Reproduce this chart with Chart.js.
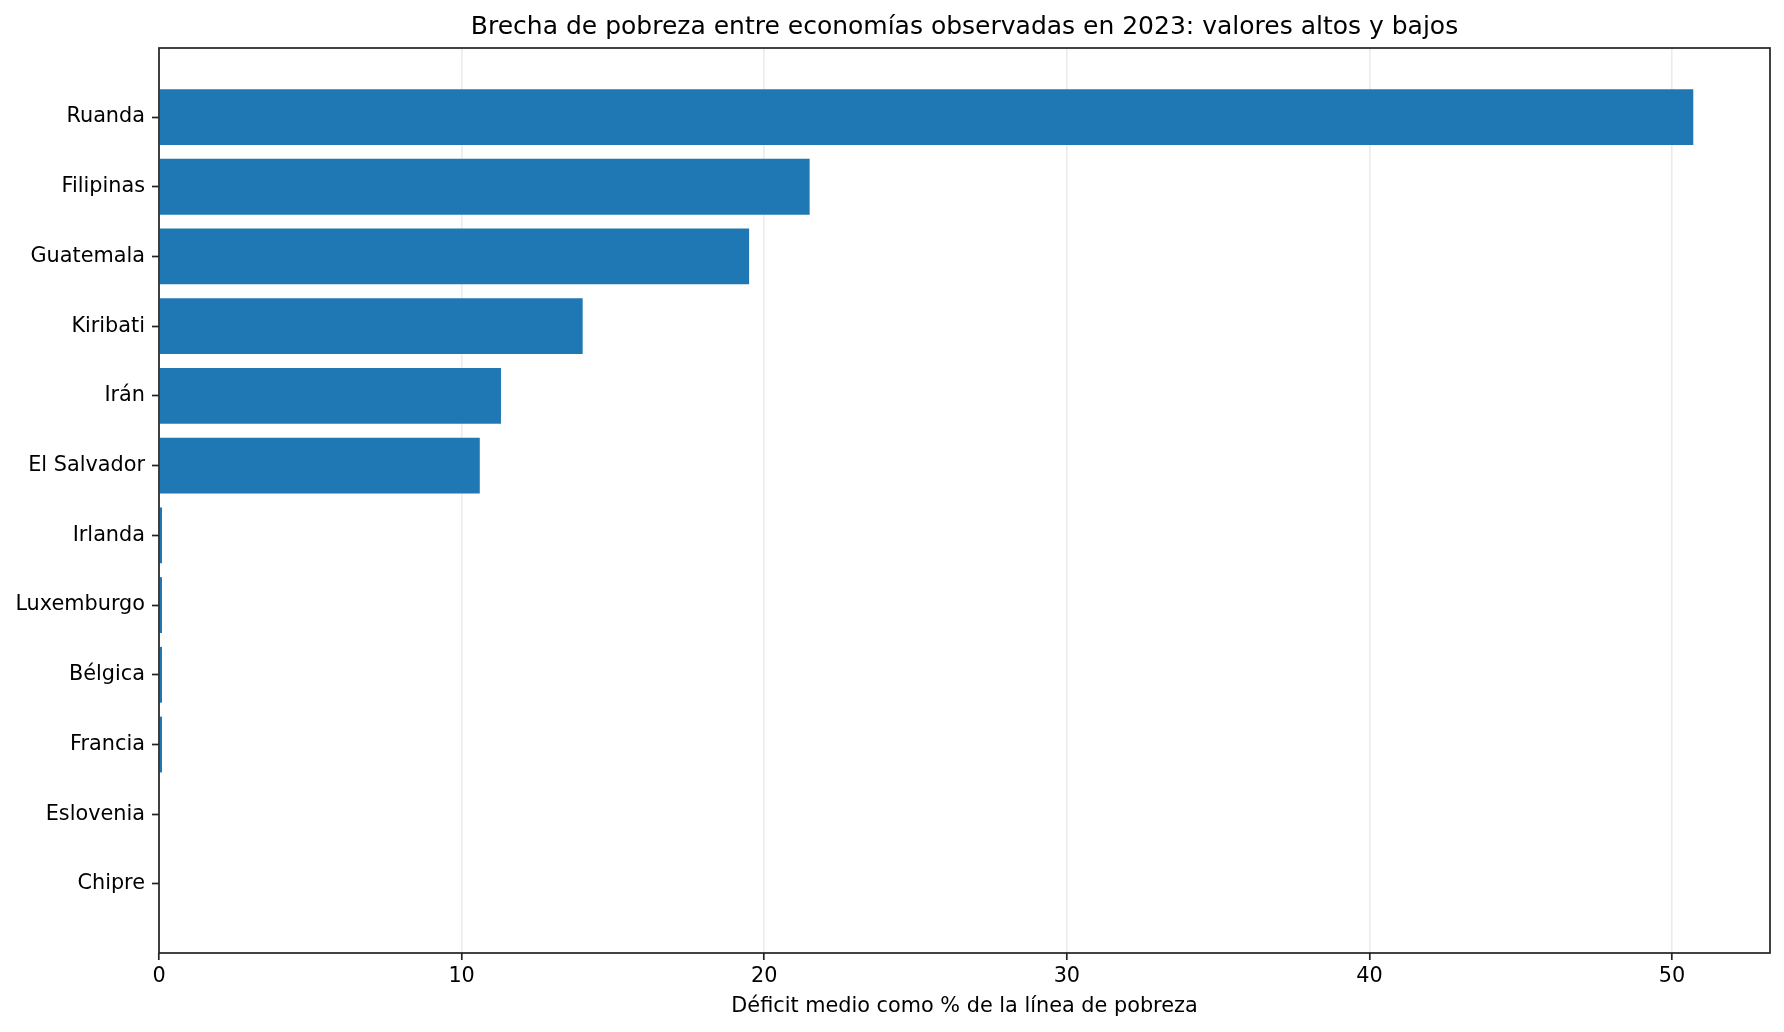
<!DOCTYPE html>
<html>
<head>
<meta charset="utf-8">
<script src="https://cdn.jsdelivr.net/npm/chart.js@4.4.1/dist/chart.umd.min.js"></script>
<style>
    html, body { margin: 0; padding: 0; background: #fff; }
    #wrap { width: 1784px; height: 1032px; }
</style>
</head>
<body>
<div id="wrap"><canvas id="chart"></canvas></div>
<script>
const countries = ["Ruanda", "Filipinas", "Guatemala", "Kiribati", "Irán", "El Salvador",
    "Irlanda", "Luxemburgo", "Bélgica", "Francia", "Eslovenia", "Chipre"];
const gapValues = [50.7, 21.5, 19.5, 14.0, 11.3, 10.6, 0.1, 0.1, 0.1, 0.1, 0, 0];
const xTicks = [0, 10, 20, 30, 40, 50];

const titleText = "Brecha de pobreza entre economías observadas en 2023: valores altos y bajos";
const xLabel = "Déficit medio como % de la línea de pobreza";

const barColor = "#1f77b4";
const spineColor = "#222222";
const font = "'DejaVu Sans', sans-serif";

// matplotlib style margins: 5% on each side of the data range
let xMax = Math.max(...gapValues) * 1.05;
let yMin = -0.4 - (countries.length - 1 + 0.8) * 0.05;
let yMax = countries.length - 1 + 0.4 + (countries.length - 1 + 0.8) * 0.05;

// box around the plot area (all four spines)
const frame = {
    id: "frame",
    afterDraw(chart) {
        const a = chart.chartArea;
        const ctx = chart.ctx;
        ctx.save();
        ctx.strokeStyle = spineColor;
        ctx.lineWidth = 1.7;
        ctx.strokeRect(a.left, a.top, a.right - a.left, a.bottom - a.top);
        ctx.restore();
    }
};

let points = countries.map((c, i) => ({ x: gapValues[i], y: i }));

new Chart(document.getElementById("chart"), {
    type: "bar",
    data: {
        datasets: [{
            data: points,
            backgroundColor: barColor,
            borderWidth: 0,
            barPercentage: 0.8,
            categoryPercentage: 1.0
        }]
    },
    options: {
        indexAxis: "y",
        responsive: true,
        maintainAspectRatio: false,
        animation: false,
        layout: { padding: { top: 0, left: 0, right: 14, bottom: 0 } },
        plugins: {
            legend: { display: false },
            tooltip: { enabled: false },
            title: {
                display: true,
                fullSize: false,
                text: titleText,
                color: "#000",
                font: { family: font, size: 25, weight: "normal", lineHeight: 1.2 },
                padding: { top: 12, bottom: 6 }
            }
        },
        scales: {
            x: {
                type: "linear",
                min: 0,
                max: xMax,
                afterBuildTicks: s => { s.ticks = xTicks.map(v => ({ value: v })); },
                afterFit: s => { s.height = 79; },
                ticks: {
                    color: "#000",
                    font: { family: font, size: 20.8 },
                    padding: 4,
                    maxRotation: 0
                },
                grid: {
                    color: "#ebebeb",
                    lineWidth: 1.6,
                    tickColor: spineColor,
                    tickLength: 7,
                    tickWidth: 1.7
                },
                border: { display: false },
                title: {
                    display: true,
                    text: xLabel,
                    color: "#000",
                    font: { family: font, size: 20.8, lineHeight: 1.2 },
                    padding: { top: 0, bottom: 13 }
                }
            },
            y: {
                type: "linear",
                reverse: true,
                offset: false,
                min: yMin,
                max: yMax,
                afterBuildTicks: s => { s.ticks = countries.map((c, i) => ({ value: i })); },
                afterFit: s => { s.width = 159; },
                ticks: {
                    color: "#000",
                    font: { family: font, size: 20.8 },
                    padding: 7,
                    callback: v => countries[v]
                },
                grid: {
                    offset: false,
                    drawOnChartArea: false,
                    tickColor: spineColor,
                    tickLength: 7,
                    tickWidth: 1.7
                },
                border: { display: false }
            }
        }
    },
    plugins: [frame]
});
</script>
</body>
</html>
